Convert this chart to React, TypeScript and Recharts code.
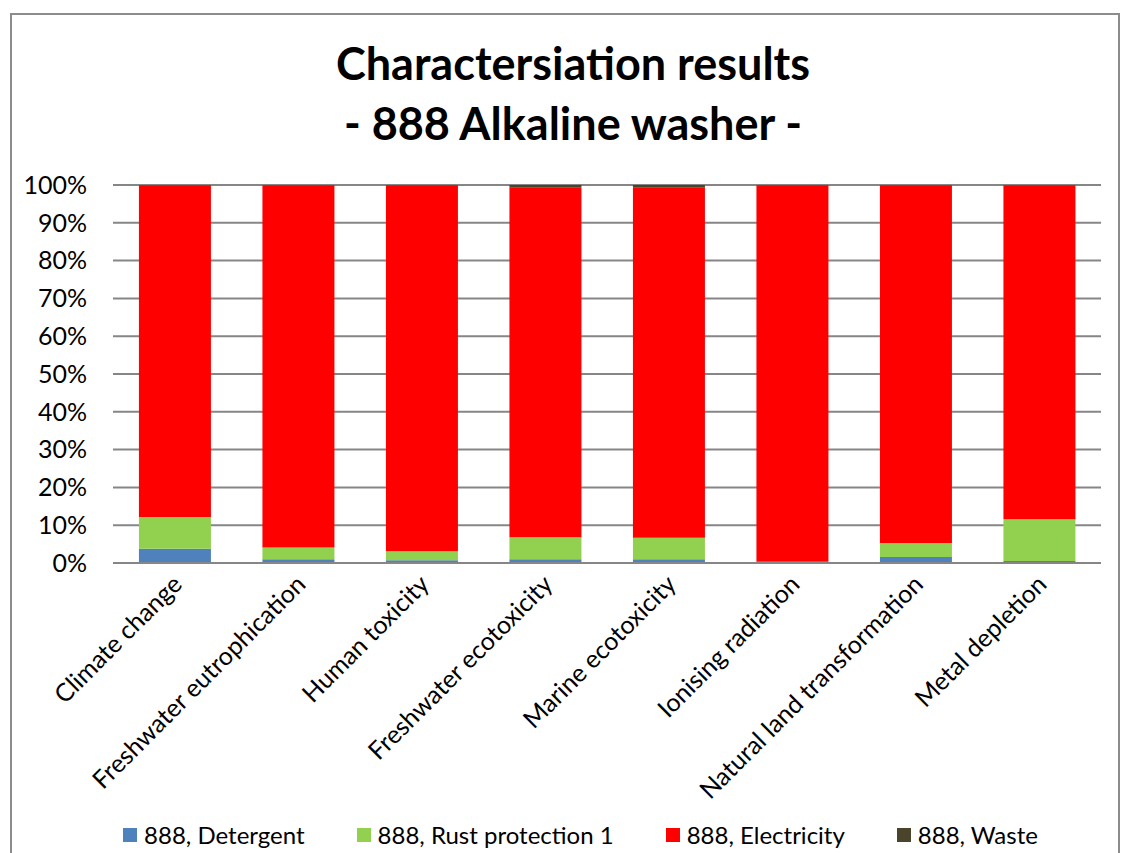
import { BarChart, Bar, XAxis, YAxis, CartesianGrid, Legend } from "recharts";

const categories = [
  "Climate change",
  "Freshwater eutrophication",
  "Human toxicity",
  "Freshwater ecotoxicity",
  "Marine ecotoxicity",
  "Ionising radiation",
  "Natural land transformation",
  "Metal depletion",
];

// shares in % of each impact category
const detergent = [3.8, 1.0, 0.7, 1.0, 1.0, 0.2, 1.6, 0.5];
const rustProtection = [8.4, 3.1, 2.4, 5.8, 5.7, 0.1, 3.7, 11.1];
const waste = [0.1, 0.1, 0.1, 0.7, 0.7, 0.1, 0.1, 0.1];
const electricity = categories.map(
  (_, i) => 100 - detergent[i] - rustProtection[i] - waste[i]
);

const yTicks = [0, 10, 20, 30, 40, 50, 60, 70, 80, 90, 100];
const seriesOrder = ["888, Detergent", "888, Rust protection 1", "888, Electricity", "888, Waste"];

const data = categories.map((name, i) => ({
  name,
  detergent: detergent[i],
  rust: rustProtection[i],
  electricity: electricity[i],
  waste: waste[i],
}));

const FONT = "Lato, 'Open Sans', sans-serif";

const CategoryTick = (props: any) => {
  const { x, y, payload } = props;
  return (
    <g transform={`translate(${x + 4},${y + 10}) rotate(-45)`}>
      <text x={0} y={0} dy={7} textAnchor="end" fill="#000" fontSize={25} fontFamily={FONT}>
        {payload.value}
      </text>
    </g>
  );
};

const LegendContent = (props: any) => {
  const payload = [...(props.payload || [])].sort(
    (a: any, b: any) => seriesOrder.indexOf(a.value) - seriesOrder.indexOf(b.value)
  );
  return (
    <div
      style={{
        display: "flex",
        justifyContent: "center",
        fontFamily: FONT,
        fontSize: 24,
        paddingLeft: 60,
      }}
    >
      {payload.map((p: any, i: number) => (
        <div
          key={p.value}
          style={{ display: "flex", alignItems: "center", marginRight: i === payload.length - 1 ? 0 : 52 }}
        >
          <span style={{ width: 14, height: 14, background: p.color, marginRight: 7, display: "inline-block" }} />
          <span>{p.value}</span>
        </div>
      ))}
    </div>
  );
};

const App = () => {
  return (
    <div style={{ position: "absolute", left: 0, top: 0, width: 1123, height: 853, background: "#fff", overflow: "hidden" }}>
      <div
        style={{
          position: "absolute",
          left: 10,
          top: 13,
          width: 1106,
          height: 860,
          border: "2px solid #8c8c8c",
        }}
      />
      <div
        style={{
          position: "absolute",
          left: 0,
          top: 33,
          width: 1146,
          textAlign: "center",
          fontFamily: FONT,
          fontWeight: "bold",
          fontSize: 45,
          lineHeight: "60px",
        }}
      >
        Charactersiation results
        <br />- 888 Alkaline washer -
      </div>
      <div style={{ position: "absolute", left: 0, top: 0 }}>
        <BarChart
          width={1123}
          height={853}
          data={data}
          margin={{ top: 185, right: 22, left: 0, bottom: 3 }}
          barCategoryGap="21%"
        >
          <CartesianGrid vertical={false} stroke="#868686" strokeWidth={2} />
          <XAxis
            dataKey="name"
            interval={0}
            tickLine={false}
            axisLine={{ stroke: "#868686", strokeWidth: 2 }}
            height={257}
            tick={<CategoryTick />}
          />
          <YAxis
            width={113}
            domain={[0, 100]}
            ticks={yTicks}
            tickFormatter={(v: number) => `${v}%`}
            axisLine={false}
            tickLine={false}
            tickSize={0}
            tickMargin={26}
            tick={{ fill: "#000", fontSize: 25, fontFamily: FONT }}
          />
          <Legend verticalAlign="bottom" height={30} itemSorter={null as any} content={<LegendContent />} />
          <Bar dataKey="detergent" name="888, Detergent" stackId="a" fill="#4F81BD" isAnimationActive={false} />
          <Bar dataKey="rust" name="888, Rust protection 1" stackId="a" fill="#92D050" isAnimationActive={false} />
          <Bar dataKey="electricity" name="888, Electricity" stackId="a" fill="#FF0000" isAnimationActive={false} />
          <Bar dataKey="waste" name="888, Waste" stackId="a" fill="#4A452A" isAnimationActive={false} />
        </BarChart>
      </div>
    </div>
  );
};

export default App;
